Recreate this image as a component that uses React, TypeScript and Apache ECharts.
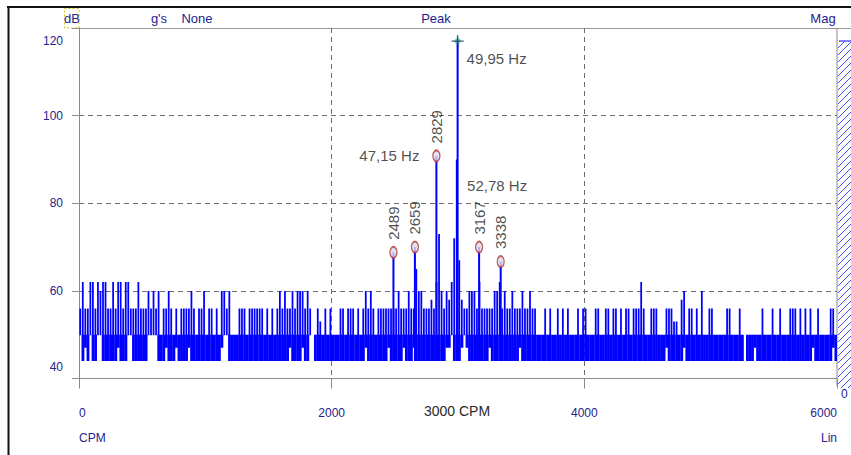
import React, { useEffect, useRef } from 'react';
import * as echarts from 'echarts';

// ---- data ----
const xTicks = [0, 2000, 4000, 6000];
const yTicks = [40, 60, 80, 100, 120];
const binWidth = 20; // CPM per spectrum bin

// top of each bin (dB)
const noiseHi = [
  56, 62, 56, 56, 62, 62, 56, 62, 60, 62,
  62, 56, 56, 62, 56, 62, 62, 56, 62, 62,
  56, 56, 56, 62, 56, 56, 56, 60, 56, 60,
  56, 60, 50, 56, 56, 60, 56, 50, 56, 50,
  56, 56, 56, 56, 60, 56, 50, 56, 56, 60,
  50, 56, 56, 50, 56, 50, 60, 60, 56, 60,
  50, 50, 50, 56, 56, 56, 50, 56, 56, 56,
  56, 56, 56, 50, 56, 50, 56, 50, 56, 60,
  56, 60, 56, 56, 60, 56, 60, 60, 60, 56,
  60, 56, 50, 50, 56, 53, 50, 56, 50, 56,
  50, 50, 50, 56, 56, 50, 56, 56, 56, 50,
  56, 50, 56, 60, 56, 60, 56, 50, 56, 56,
  56, 56, 56, 56, 56, 56, 60, 56, 56, 56,
  60, 56, 56, 65, 60, 60, 56, 56, 56, 58,
  56, 62, 73, 60, 56, 60, 58, 62, 72, 90,
  67, 58, 56, 56, 60, 60, 60, 56, 62, 56,
  56, 56, 56, 56, 60, 60, 62, 56, 60, 56,
  56, 60, 56, 56, 56, 60, 56, 56, 60, 56,
  56, 50, 50, 50, 56, 50, 56, 50, 50, 56,
  50, 56, 50, 56, 50, 50, 50, 56, 50, 56,
  56, 50, 50, 50, 56, 56, 50, 50, 56, 56,
  50, 56, 56, 50, 56, 50, 56, 56, 50, 56,
  56, 56, 62, 56, 50, 50, 56, 56, 56, 50,
  50, 50, 56, 56, 56, 53, 53, 50, 58, 60,
  50, 56, 56, 50, 56, 50, 60, 50, 50, 56,
  56, 50, 50, 50, 50, 50, 56, 56, 50, 50,
  50, 56, 50, 50, 50, 50, 50, 50, 50, 50,
  56, 50, 50, 50, 56, 50, 50, 56, 50, 50,
  50, 56, 56, 56, 50, 56, 50, 56, 50, 56,
  50, 50, 56, 50, 50, 50, 50, 56, 56, 50,
];

// bottom of each bin (dB)
const noiseLo = [
  50, 44, 47, 44, 50, 44, 44, 50, 50, 44,
  44, 44, 44, 44, 44, 47, 44, 44, 44, 50,
  50, 44, 44, 44, 44, 44, 44, 50, 50, 50,
  50, 44, 44, 44, 47, 44, 44, 44, 47, 44,
  44, 44, 44, 47, 44, 44, 44, 44, 44, 44,
  44, 44, 44, 44, 44, 44, 47, 50, 50, 44,
  44, 44, 44, 44, 44, 44, 44, 44, 44, 44,
  44, 44, 44, 44, 44, 44, 44, 44, 44, 44,
  44, 44, 44, 47, 44, 44, 44, 44, 47, 44,
  44, 50, 50, 44, 44, 44, 44, 44, 44, 44,
  44, 44, 44, 44, 44, 44, 44, 44, 44, 44,
  44, 44, 44, 47, 44, 44, 44, 44, 44, 44,
  44, 44, 47, 44, 44, 44, 44, 44, 47, 44,
  44, 44, 47, 44, 44, 44, 44, 44, 44, 44,
  44, 44, 44, 44, 44, 47, 47, 50, 44, 44,
  44, 47, 50, 47, 44, 44, 44, 44, 44, 44,
  44, 44, 47, 44, 44, 44, 44, 44, 44, 44,
  44, 44, 44, 44, 47, 44, 44, 44, 44, 44,
  44, 44, 44, 44, 44, 44, 44, 44, 44, 44,
  44, 44, 44, 44, 44, 44, 44, 44, 44, 44,
  44, 44, 44, 44, 44, 44, 44, 44, 44, 44,
  44, 44, 44, 44, 44, 44, 44, 44, 44, 44,
  44, 44, 44, 44, 44, 44, 44, 44, 44, 44,
  44, 44, 47, 44, 44, 44, 44, 44, 44, 47,
  44, 44, 44, 44, 44, 44, 44, 44, 44, 44,
  44, 44, 44, 44, 44, 44, 44, 44, 44, 44,
  44, 44, 44, 50, 44, 44, 44, 47, 44, 44,
  44, 44, 44, 44, 44, 44, 44, 44, 44, 44,
  44, 44, 44, 44, 44, 44, 44, 44, 44, 44,
  47, 44, 44, 44, 44, 44, 44, 44, 47, 44,
];

// marked sideband peaks
const peakCpm = [2489, 2659, 2829, 3167, 3338];
const peakDb = [68.8, 70.0, 90.8, 70.0, 66.7];
// main peak (cursor)
const mainPeakCpm = 2997;
const mainPeakDb = 117;
// Hz annotations
const hzText = ['47,15 Hz', '49,95 Hz', '52,78 Hz'];
const hzCpm = [2829, 2997, 3167];
const hzDb = [90.8, 117, 70.0];
const cursorText = '3000 CPM';
const headerTexts = ['dB', "g's", 'None', 'Peak', 'Mag'];
const baseDb = 44;
const bandTopDb = 50;

const NAVY = '#24248c';
const BLUE = '#0000ff';
const FONT = 'Liberation Sans, Arial, sans-serif';

export default function App() {
  const ref = useRef<HTMLDivElement>(null);
  useEffect(() => {
    document.body.style.margin = '0';
    if (!ref.current) return;
    const chart = echarts.init(ref.current, null, { renderer: 'svg' });

    const noiseData = noiseHi.map((h, i) => [i * binWidth, noiseLo[i], h]);
    const lineData = [...peakCpm.map((c, i) => [c, peakDb[i]]), [mainPeakCpm, mainPeakDb]];
    const hzOffsets: any[] = [
      { align: 'right', offset: [-17, 0] },
      { align: 'left', offset: [9, 17] },
      { align: 'left', offset: [-12, -62] },
    ];

    // hatch lines (decoration)
    const hatch: any[] = [];
    const hx0 = 838, hx1 = 851, hTop = 41, hBot = 388;
    for (let y = hTop + 7; y < hBot + 13; y += 7) {
      let x1 = hx0, y1 = y, x2 = hx1, y2 = y - 13;
      if (y1 > hBot) { x1 = hx0 + (y1 - hBot); y1 = hBot; }
      if (y2 < hTop) { x2 = hx1 - (hTop - y2); y2 = hTop; }
      hatch.push({ type: 'line', shape: { x1, y1, x2, y2 }, style: { stroke: '#4a4aff', lineWidth: 1 }, silent: true });
    }

    const headerX = [72, 159, 197, 436, 823];

    chart.setOption({
      animation: false,
      backgroundColor: '#ffffff',
      grid: { left: 79, top: 28, width: 758, height: 350.5, containLabel: false },
      xAxis: {
        type: 'value',
        min: 0,
        max: 6000,
        interval: 2000,
        axisLine: { show: true, lineStyle: { color: '#8a8a8a', width: 1 } },
        axisTick: { show: true, length: 10, lineStyle: { color: '#8a8a8a' } },
        axisLabel: {
          margin: 28,
          color: NAVY,
          fontSize: 12,
          fontFamily: FONT,
          alignMinLabel: 'left',
          alignMaxLabel: 'right',
          formatter: (v: number) => (xTicks.includes(v) ? String(v) : ''),
        },
        splitLine: {
          show: true,
          showMinLine: false,
          showMaxLine: false,
          lineStyle: { color: '#6e6e6e', type: [5, 4], width: 1 },
        },
      },
      yAxis: {
        type: 'value',
        min: 40,
        max: 120,
        interval: 20,
        axisLine: { show: true, lineStyle: { color: '#8a8a8a', width: 1 } },
        axisTick: { show: true, length: 7, lineStyle: { color: '#8a8a8a' } },
        axisLabel: {
          margin: 16,
          color: NAVY,
          fontSize: 12,
          fontFamily: FONT,
          formatter: (v: number) => {
            if (!yTicks.includes(v)) return '';
            if (v === 120) return '{t|' + v + '}';
            if (v === 40) return '{b|' + v + '}';
            return String(v);
          },
          rich: {
            t: { color: NAVY, fontSize: 12, fontFamily: FONT, padding: [26, 0, 0, 0] },
            b: { color: NAVY, fontSize: 12, fontFamily: FONT, padding: [0, 0, 23, 0] },
          },
        },
        splitLine: {
          show: true,
          showMinLine: false,
          showMaxLine: false,
          lineStyle: { color: '#6e6e6e', type: [5, 4], width: 1 },
        },
      },
      series: [
        {
          type: 'custom',
          name: 'spectrum',
          clip: true,
          encode: { x: 0, y: [1, 2] },
          data: noiseData,
          renderItem: (params: any, api: any) => {
            const x0 = api.value(0);
            const lo = api.value(1);
            const hi = api.value(2);
            const children: any[] = [];
            // solid band part (full bin width)
            const bTop = Math.min(hi, bandTopDb);
            if (bTop > lo) {
              const p0 = api.coord([x0, bTop]);
              const p1 = api.coord([x0 + binWidth, lo]);
              children.push({
                type: 'rect',
                shape: { x: p0[0], y: p0[1], width: p1[0] - p0[0] + 0.3, height: p1[1] - p0[1] },
                style: { fill: BLUE },
              });
            }
            // spike part (narrow line above the band)
            const sBot = Math.max(lo, bandTopDb);
            if (hi > sBot) {
              const p0 = api.coord([x0, hi]);
              const p1 = api.coord([x0 + binWidth, sBot]);
              const w = p1[0] - p0[0];
              children.push({
                type: 'rect',
                shape: { x: p0[0] + w * 0.15, y: p0[1], width: w * 0.7, height: p1[1] - p0[1] + 0.5 },
                style: { fill: BLUE },
              });
            }
            return { type: 'group', children };
          },
          z: 2,
        },
        {
          type: 'custom',
          name: 'peaks',
          clip: true,
          encode: { x: 0, y: 1 },
          data: lineData,
          renderItem: (params: any, api: any) => {
            const x = api.value(0);
            const v = api.value(1);
            const a = api.coord([x, baseDb]);
            const b = api.coord([x, v]);
            return {
              type: 'line',
              shape: { x1: a[0], y1: a[1], x2: b[0], y2: b[1] },
              style: { stroke: BLUE, lineWidth: 2 },
            };
          },
          z: 3,
        },
        {
          type: 'scatter',
          name: 'markers',
          data: peakCpm.map((c, i) => [c, peakDb[i]]),
          symbol: 'circle',
          symbolSize: [7, 11],
          itemStyle: { color: '#dcdcec', borderColor: '#b23a3a', borderWidth: 1.6 },
          label: {
            show: true,
            position: 'top',
            distance: 6,
            rotate: 90,
            align: 'left',
            verticalAlign: 'middle',
            fontSize: 15,
            fontFamily: FONT,
            color: '#1e1e1e',
            formatter: (p: any) => String(p.value[0]),
          },
          z: 5,
        },
        {
          type: 'scatter',
          name: 'cursorDot',
          data: [[mainPeakCpm, mainPeakDb]],
          symbol: 'circle',
          symbolSize: 6,
          itemStyle: { color: '#3fd0d0' },
          z: 6,
        },
        {
          type: 'scatter',
          name: 'cursor',
          data: [[mainPeakCpm, mainPeakDb]],
          symbol: 'path://M4.4,0h1.2v4.4h4.4v1.2h-4.4v4.4h-1.2v-4.4h-4.4v-1.2h4.4z',
          symbolSize: 12,
          itemStyle: { color: '#1c2c44' },
          z: 7,
        },
        {
          type: 'scatter',
          name: 'hz',
          symbolSize: 0,
          data: hzCpm.map((c, i) => ({
            value: [c, hzDb[i]],
            name: hzText[i],
            label: hzOffsets[i],
          })),
          label: {
            show: true,
            position: 'inside',
            verticalAlign: 'middle',
            fontSize: 15,
            fontFamily: FONT,
            color: '#1e1e1e',
            formatter: (p: any) => p.name,
          },
          z: 8,
        },
      ],
      graphic: [
        // outer frame
        { type: 'line', shape: { x1: 7, y1: 7, x2: 851, y2: 7 }, style: { stroke: '#111', lineWidth: 2 }, silent: true },
        { type: 'line', shape: { x1: 8.5, y1: 6, x2: 8.5, y2: 455 }, style: { stroke: '#111', lineWidth: 2 }, silent: true },
        // header separator and right border
        { type: 'line', shape: { x1: 79, y1: 28.5, x2: 851, y2: 28.5 }, style: { stroke: '#9a9a9a', lineWidth: 1 }, silent: true },
        { type: 'line', shape: { x1: 837, y1: 28, x2: 837, y2: 386 }, style: { stroke: '#8a8a8a', lineWidth: 1 }, silent: true },
        // hatch panel
        { type: 'line', shape: { x1: 839, y1: 41, x2: 851, y2: 41 }, style: { stroke: '#3030ff', lineWidth: 1.2 }, silent: true },
        ...hatch,
        // dB dotted box
        { type: 'rect', shape: { x: 64.5, y: 8.5, width: 14.5, height: 19.5 }, style: { fill: 'none', stroke: '#cfc21a', lineWidth: 1, lineDash: [2, 2] }, silent: true },
        ...headerTexts.map((t, i) => ({
          type: 'text',
          x: headerX[i],
          y: 18,
          style: { text: t, fill: NAVY, font: '13px ' + FONT, align: 'center', verticalAlign: 'middle' },
          silent: true,
        })),
        { type: 'text', x: 79, y: 438, style: { text: 'CPM', fill: NAVY, font: '12px ' + FONT, align: 'left', verticalAlign: 'middle' }, silent: true },
        { type: 'text', x: 837, y: 438, style: { text: 'Lin', fill: NAVY, font: '12px ' + FONT, align: 'right', verticalAlign: 'middle' }, silent: true },
        { type: 'text', x: 457, y: 411, style: { text: cursorText, fill: '#2a2a2a', font: '14px ' + FONT, align: 'center', verticalAlign: 'middle' }, silent: true },
        { type: 'text', x: 841, y: 394, style: { text: '0', fill: NAVY, font: '12px ' + FONT, align: 'left', verticalAlign: 'middle' }, silent: true },
      ],
    });
    return () => chart.dispose();
  }, []);
  return <div ref={ref} style={{ width: 851, height: 455 }} />;
}
